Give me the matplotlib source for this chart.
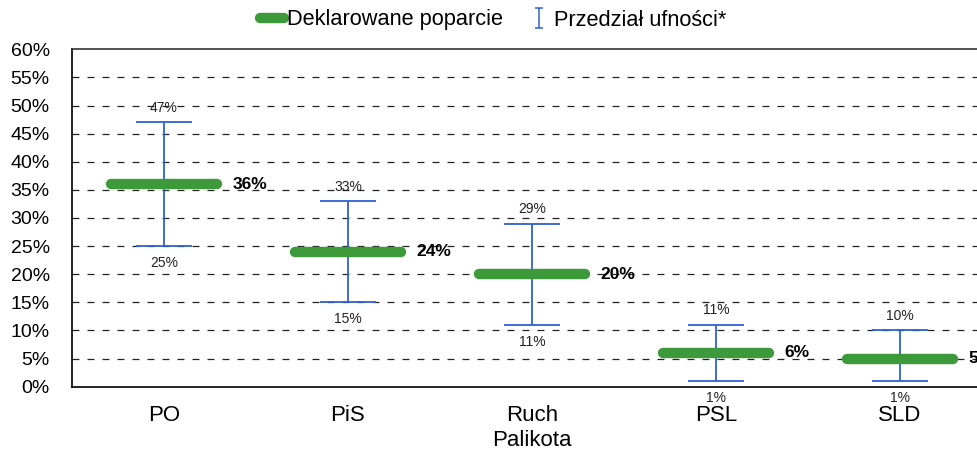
import matplotlib
matplotlib.use("Agg")
import matplotlib.pyplot as plt
from matplotlib.lines import Line2D
from matplotlib.path import Path

plt.rcParams['font.family'] = ['Liberation Sans', 'DejaVu Sans']
plt.rcParams['lines.scale_dashes'] = False

categories = ["PO", "PiS", "Ruch\nPalikota", "PSL", "SLD"]
support = [36, 24, 20, 6, 5]
ci_upper = [47, 33, 29, 11, 10]
ci_lower = [25, 15, 11, 1, 1]
yticks = list(range(0, 61, 5))

GREEN = "#3d9a3a"
BLUE = "#2d5fd4"

fig = plt.figure(figsize=(9.78, 4.5), dpi=100)
ax = fig.add_axes([72 / 978, 1 - 386.7 / 450, 920 / 978, 337.4 / 450])

x = list(range(len(categories)))
ax.set_xlim(-0.5, len(categories) - 0.5)
ax.set_ylim(0, 60)

for yv in yticks[1:-1]:
    ax.axhline(yv, color="#222222", lw=0.9, dashes=(5, 5.8), zorder=1)

# error bars
err_lo = [s - l for s, l in zip(support, ci_lower)]
err_hi = [u - s for s, u in zip(support, ci_upper)]
ax.errorbar(x, support, yerr=[err_lo, err_hi], fmt='none', ecolor=BLUE,
            elinewidth=1.3, capsize=20, capthick=1.3, zorder=3)

# support bars
for xi, s in zip(x, support):
    ax.plot([xi - 0.29, xi + 0.29], [s, s], color=GREEN, lw=7.5,
            solid_capstyle='round', zorder=4)
    ax.annotate(f"{s}%", xy=(xi + 0.29, s), xytext=(11, 0),
                textcoords="offset points", ha="left", va="center",
                fontsize=12.5, fontweight="bold", color="black",
                annotation_clip=False, zorder=5)

for xi, u, l in zip(x, ci_upper, ci_lower):
    ax.annotate(f"{u}%", xy=(xi, u), xytext=(0, 10.5), textcoords="offset points",
                ha="center", va="center", fontsize=10, color="#222222")
    ax.annotate(f"{l}%", xy=(xi, l), xytext=(0, -12), textcoords="offset points",
                ha="center", va="center", fontsize=10, color="#222222")

ax.set_yticks(yticks)
ax.set_yticklabels([f"{v}%" for v in yticks], fontsize=14)
ax.set_xticks(x)
ax.set_xticklabels(categories, fontsize=16, linespacing=1.2)
ax.tick_params(axis='both', length=0)
ax.tick_params(axis='y', pad=16)
ax.tick_params(axis='x', pad=13.5)

ax.spines["right"].set_visible(False)
ax.spines["top"].set_color("#333333")
ax.spines["top"].set_linewidth(1.2)
ax.spines["left"].set_linewidth(1.2)
ax.spines["bottom"].set_linewidth(1.2)

ibeam = Path([(-0.35, -1), (0.35, -1), (0, -1), (0, 1), (-0.35, 1), (0.35, 1)],
             [Path.MOVETO, Path.LINETO, Path.MOVETO, Path.LINETO, Path.MOVETO, Path.LINETO])
green_handle = Line2D([], [], color=GREEN, lw=7.5, solid_capstyle='round')
blue_handle = Line2D([], [], linestyle='none', marker=ibeam, markersize=15,
                     markeredgecolor=BLUE, markerfacecolor='none', markeredgewidth=1.1)
leg = fig.legend([green_handle, blue_handle], ["Deklarowane poparcie", "Przedział ufności*"],
                 loc="center", bbox_to_anchor=(493 / 978, 1 - 20 / 450),
                 ncol=2, frameon=False, fontsize=15.7, handlelength=1.1,
                 handletextpad=0.15, columnspacing=1.1)

fig.savefig("out.png", dpi=100)
